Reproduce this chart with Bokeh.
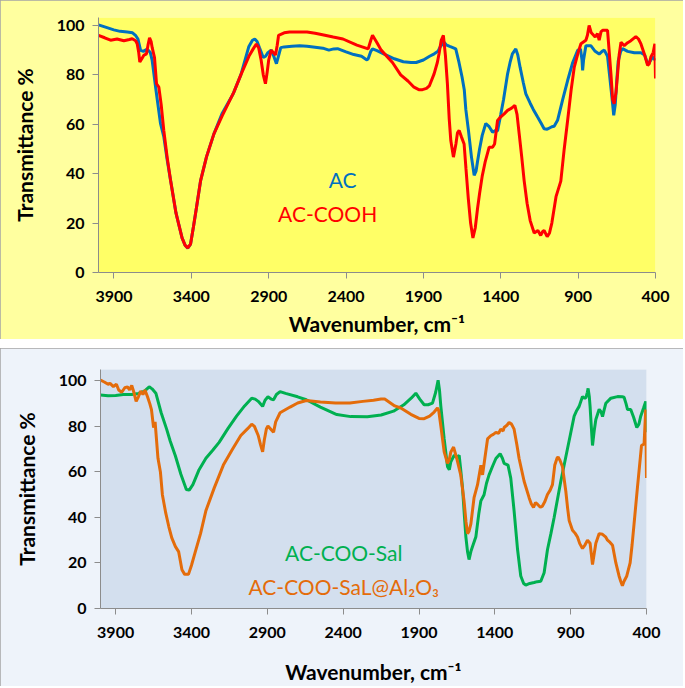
from bokeh.plotting import figure
from bokeh.models import Range1d, FixedTicker, Label, ColumnDataSource, Spacer
from bokeh.embed import file_html
from bokeh.resources import INLINE

# ---------------- data ----------------
x_ticks = [3900, 3400, 2900, 2400, 1900, 1400, 900, 400]
y_ticks = [0, 20, 40, 60, 80, 100]

ac_wn = [4000, 3950, 3901, 3860, 3814, 3780, 3761, 3745, 3728, 3710, 3685, 3665, 3653, 3631, 3599, 3578, 3556,
         3534, 3499, 3460, 3440, 3423, 3405, 3386, 3370, 3340, 3302, 3254, 3200, 3132, 3080, 3028, 3005, 2990,
         2975, 2960, 2935, 2920, 2905, 2884, 2870, 2850, 2835, 2822, 2800, 2750, 2700, 2652, 2600, 2550, 2511,
         2480, 2455, 2400, 2350, 2300, 2265, 2257, 2240, 2229, 2200, 2150, 2088, 2030, 1980, 1947, 1900, 1860,
         1830, 1806, 1790, 1767, 1749, 1730, 1710, 1691, 1670, 1650, 1636, 1626, 1608, 1590, 1572, 1560, 1550,
         1537, 1520, 1497, 1475, 1453, 1435, 1421, 1400, 1382, 1356, 1340, 1325, 1303, 1290, 1275, 1255, 1238,
         1210, 1190, 1162, 1140, 1120, 1100, 1085, 1070, 1055, 1033, 1000, 968, 935, 903, 885, 875, 871, 865,
         850, 818, 790, 764, 745, 731, 710, 698, 680, 670, 660, 650, 641, 625, 613, 580, 537, 494, 470, 451,
         435, 419, 410, 400]
ac_t = [100.2, 99.2, 98.2, 97.6, 97.3, 97.0, 96.0, 94.5, 89.9, 89.5, 90.4, 89.0, 85.8, 75.0, 60.2, 55.0, 45.5,
        37.2, 24.0, 14.0, 11.0, 9.8, 11.5, 18.6, 25.0, 37.2, 46.8, 56.1, 64.5, 72.0, 80.0, 91.5, 94.0, 94.5,
        93.5, 91.0, 87.0, 87.5, 89.0, 90.0, 88.0, 84.5, 88.0, 91.0, 91.3, 91.6, 91.8, 91.6, 91.2, 90.8, 90.0,
        90.5, 90.6, 89.3, 88.2, 87.5, 86.0, 86.5, 89.5, 90.5, 89.8, 88.3, 86.5, 85.3, 85.0, 85.0, 86.0, 87.5,
        88.5, 89.5, 91.5, 93.2, 92.0, 91.5, 91.0, 90.5, 85.0, 79.0, 74.0, 66.0, 57.0, 47.0, 39.3, 41.0, 45.0,
        50.0, 55.5, 60.3, 59.0, 56.8, 57.5, 57.3, 64.0, 70.0, 80.4, 85.0, 88.5, 90.5, 88.0, 83.0, 77.0, 72.3,
        68.5, 66.0, 62.9, 60.5, 58.2, 58.0, 58.5, 59.0, 59.2, 61.6, 70.0, 77.7, 85.0, 89.9, 90.5, 86.0, 81.8, 86.0,
        91.8, 91.8, 89.5, 88.4, 89.5, 90.0, 87.5, 80.5, 70.0, 63.6, 68.0, 78.0, 85.5, 89.5, 90.6, 89.5, 88.9, 88.9,
        88.0, 84.5, 85.5, 87.2, 86.5, 85.8]

cooh_wn = [4000, 3960, 3922, 3880, 3836, 3800, 3782, 3760, 3750, 3740, 3733, 3720, 3707, 3690, 3680, 3670, 3660,
           3653, 3638, 3625, 3610, 3595, 3578, 3556, 3534, 3499, 3460, 3440, 3423, 3405, 3386, 3370, 3340, 3302,
           3254, 3200, 3125, 3080, 3028, 3000, 2980, 2965, 2949, 2935, 2921, 2910, 2900, 2884, 2870, 2856, 2845,
           2836, 2800, 2765, 2700, 2652, 2600, 2560, 2483, 2420, 2330, 2257, 2240, 2229, 2200, 2173, 2100, 2047,
           2000, 1961, 1930, 1906, 1880, 1862, 1831, 1810, 1799, 1785, 1771, 1758, 1745, 1733, 1723, 1706, 1690,
           1680, 1669, 1655, 1637, 1625, 1610, 1595, 1580, 1565, 1550, 1537, 1520, 1500, 1475, 1453, 1440, 1421,
           1400, 1378, 1356, 1330, 1309, 1295, 1281, 1265, 1249, 1230, 1210, 1184, 1160, 1142, 1130, 1120, 1100,
           1085, 1070, 1043, 1012, 990, 968, 945, 925, 900, 882, 850, 840, 829, 815, 800, 790, 775, 764, 752, 742,
           720, 710, 700, 688, 677, 667, 655, 645, 635, 623, 602, 580, 559, 527, 510, 494, 470, 451, 440, 430, 415,
           404, 400]
cooh_t = [96.0, 95.0, 94.0, 94.5, 93.8, 94.3, 94.6, 93.8, 92.6, 89.0, 85.2, 86.5, 87.9, 88.5, 92.0, 95.0, 93.5,
          91.0, 87.0, 76.4, 75.0, 68.0, 57.5, 46.5, 37.2, 24.0, 14.0, 11.0, 10.0, 11.5, 18.6, 25.0, 37.2, 46.8,
          56.1, 63.5, 73.0, 80.0, 87.5, 90.5, 92.5, 91.0, 86.0, 80.0, 76.4, 81.0, 86.0, 90.0, 89.0, 88.0, 92.0,
          96.0, 97.0, 97.3, 97.3, 97.3, 96.8, 96.3, 95.3, 94.5, 92.0, 90.5, 94.0, 96.0, 93.0, 90.0, 85.0, 80.0,
          77.5, 75.0, 74.0, 74.0, 74.5, 75.5, 80.4, 85.0, 88.5, 94.0, 96.0, 88.0, 76.4, 62.0, 53.4, 46.7, 52.0,
          56.5, 57.5, 55.0, 52.0, 42.0, 30.0, 20.0, 14.0, 18.0, 26.0, 32.0, 39.0, 45.0, 50.7, 50.7, 52.0, 61.5,
          63.0, 64.2, 65.6, 66.5, 67.6, 64.0, 56.1, 47.0, 37.2, 28.0, 21.0, 16.0, 17.0, 15.0, 16.5, 17.0, 14.5,
          16.0, 20.0, 30.7, 37.0, 50.0, 61.5, 74.0, 83.1, 89.0, 92.6, 94.0, 96.0, 100.0, 97.0, 96.0, 95.3, 96.7,
          94.0, 97.5, 98.0, 98.0, 98.0, 90.0, 80.4, 70.0, 68.3, 73.0, 80.4, 88.0, 93.2, 91.8, 93.0, 93.8, 95.5,
          94.5, 92.5, 88.0, 83.8, 84.5, 87.2, 89.0, 92.6, 78.5]

sal_wn = [4000, 3950, 3900, 3850, 3794, 3750, 3710, 3679, 3660, 3635, 3600, 3564, 3540, 3506, 3470, 3434, 3415,
          3391, 3350, 3305, 3260, 3218, 3160, 3103, 3050, 3003, 2980, 2960, 2940, 2931, 2915, 2896, 2875, 2859,
          2840, 2816, 2780, 2700, 2643, 2550, 2442, 2350, 2241, 2150, 2068, 2000, 1950, 1921, 1895, 1866, 1840,
          1811, 1790, 1774, 1765, 1756, 1734, 1712, 1700, 1690, 1668, 1650, 1635, 1625, 1613, 1600, 1591, 1580,
          1570, 1558, 1547, 1525, 1505, 1492, 1471, 1455, 1438, 1415, 1393, 1365, 1350, 1339, 1313, 1295, 1273,
          1250, 1229, 1210, 1196, 1170, 1141, 1120, 1097, 1075, 1053, 1030, 1009, 965, 921, 900, 877, 860, 844,
          822, 810, 800, 790, 785, 777, 772, 764, 756, 745, 734, 712, 700, 690, 680, 668, 635, 591, 560, 548, 535,
          525, 504, 485, 464, 450, 438, 420, 405, 400]
sal_t = [93.8, 93.5, 93.6, 94.0, 94.0, 94.5, 95.5, 97.4, 96.5, 94.6, 86.0, 78.8, 73.5, 67.0, 59.0, 52.3, 52.0,
         54.4, 61.0, 66.0, 69.5, 73.0, 79.0, 84.5, 89.0, 92.4, 92.0, 91.0, 89.5, 88.8, 91.5, 93.0, 92.0, 91.7,
         94.0, 95.3, 94.5, 93.0, 91.7, 88.5, 85.2, 84.3, 84.2, 85.0, 86.7, 89.5, 92.5, 94.6, 92.0, 89.5, 89.5,
         90.2, 95.0, 100.3, 96.0, 88.8, 74.5, 62.3, 61.0, 64.5, 67.3, 66.5, 67.3, 61.0, 53.0, 40.0, 31.5, 25.0,
         21.5, 25.0, 27.2, 31.5, 42.0, 47.3, 50.0, 55.0, 58.7, 62.5, 65.9, 68.0, 66.0, 63.8, 63.0, 57.3, 42.9,
         25.8, 14.3, 11.0, 10.3, 11.0, 11.4, 11.8, 12.0, 15.7, 25.8, 33.0, 40.0, 55.9, 70.2, 77.0, 84.5, 87.0, 88.8,
         93.1, 92.5, 92.5, 95.0, 96.7, 93.0, 88.8, 80.0, 71.6, 78.0, 83.0, 87.5, 86.5, 84.3, 87.0, 90.2, 92.4, 93.1,
         93.0, 92.8, 90.0, 87.4, 87.4, 84.0, 79.5, 81.0, 84.5, 88.0, 91.0, 77.4]

al_wn = [4000, 3975, 3950, 3937, 3915, 3895, 3880, 3860, 3840, 3822, 3808, 3794, 3780, 3765, 3750, 3735, 3720,
         3707, 3690, 3675, 3664, 3650, 3640, 3621, 3605, 3592, 3570, 3549, 3530, 3506, 3485, 3463, 3445, 3420,
         3400, 3377, 3340, 3305, 3250, 3190, 3130, 3075, 3030, 3003, 2985, 2960, 2945, 2931, 2920, 2906, 2896,
         2880, 2859, 2845, 2816, 2750, 2700, 2643, 2550, 2450, 2356, 2270, 2200, 2150, 2126, 2060, 2020, 1954,
         1900, 1866, 1830, 1800, 1778, 1770, 1756, 1734, 1712, 1700, 1690, 1672, 1651, 1625, 1603, 1590, 1580,
         1570, 1558, 1537, 1514, 1492, 1481, 1466, 1448, 1427, 1410, 1393, 1375, 1361, 1345, 1339, 1320, 1306,
         1290, 1273, 1255, 1240, 1207, 1174, 1160, 1145, 1132, 1119, 1100, 1086, 1070, 1053, 1035, 1020, 1005,
         990, 983, 970, 954, 932, 920, 910, 888, 870, 855, 840, 822, 805, 789, 772, 764, 756, 745, 734, 712, 690,
         670, 657, 640, 624, 602, 581, 570, 559, 548, 530, 508, 495, 482, 460, 433, 416, 405, 400]
al_t = [100.3, 99.5, 98.5, 98.9, 97.5, 98.5, 96.0, 95.0, 97.0, 97.4, 96.0, 98.0, 95.0, 91.0, 93.0, 95.5, 94.0,
        96.0, 93.0, 90.0, 87.4, 79.5, 82.0, 66.0, 60.0, 50.0, 42.0, 35.8, 31.0, 27.2, 25.0, 17.0, 15.0, 15.0,
        19.0, 24.4, 33.0, 43.0, 53.0, 63.0, 70.0, 76.0, 79.0, 81.0, 80.0, 76.0, 72.0, 68.8, 74.0, 79.0, 80.2,
        79.0, 77.4, 82.0, 86.0, 88.5, 90.3, 91.4, 90.7, 90.3, 90.3, 91.0, 91.5, 92.0, 92.0, 89.0, 88.1, 85.3,
        83.5, 83.4, 84.5, 86.3, 88.1, 87.0, 80.2, 68.8, 63.8, 65.5, 68.8, 70.9, 65.9, 58.7, 47.3, 38.0, 32.9,
        34.0, 37.2, 48.7, 54.4, 62.9, 58.7, 65.9, 74.5, 75.9, 76.5, 77.4, 77.0, 78.8, 78.0, 79.5, 80.5, 81.7,
        81.0, 78.8, 72.0, 65.9, 55.9, 48.7, 46.0, 44.4, 46.5, 45.8, 44.5, 45.0, 47.0, 50.1, 52.0, 54.4, 62.9,
        66.0, 66.6, 65.0, 62.3, 51.5, 44.0, 38.7, 34.4, 33.0, 31.4, 28.5, 26.4, 28.0, 30.0, 28.7, 24.0, 19.3,
        24.0, 28.7, 32.9, 32.6, 31.5, 30.0, 29.0, 27.8, 20.0, 14.3, 12.0, 10.0, 12.0, 14.3, 20.0, 28.0, 37.2,
        53.0, 71.6, 72.3, 87.4, 57.3]

FONT = "Lato"
FIG_W = 683


def make_panel(height, border, ymax, outer_bg, plot_bg, title_standoff):
    p = figure(width=FIG_W, height=height, output_backend="svg", toolbar_location=None,
               x_range=Range1d(4000, 400), y_range=Range1d(0, ymax),
               min_border_left=border[0], min_border_right=border[1],
               min_border_top=border[2], min_border_bottom=border[3])
    p.background_fill_color = plot_bg
    p.border_fill_color = outer_bg
    p.outline_line_color = None
    p.grid.visible = False
    p.styles = {"outline": "2px solid #A5A5A5", "outline-offset": "-2px"}
    p.xaxis.ticker = FixedTicker(ticks=x_ticks)
    p.yaxis.ticker = FixedTicker(ticks=y_ticks)
    for ax in (p.xaxis[0], p.yaxis[0]):
        ax.axis_line_color = "#8C8C8C"
        ax.axis_line_width = 1
        ax.major_tick_line_color = "#8C8C8C"
        ax.major_tick_out = 6
        ax.major_tick_in = 0
        ax.minor_tick_line_color = None
        ax.major_label_text_font = FONT
        ax.major_label_text_font_style = "bold"
        ax.major_label_text_font_size = "16px"
        ax.major_label_text_color = "black"
        ax.axis_label_text_font = FONT
        ax.axis_label_text_font_style = "bold"
        ax.axis_label_text_font_size = "21px"
        ax.axis_label_text_color = "black"
    p.xaxis.axis_label = "Wavenumber, cm\u207b\u00b9"
    p.yaxis.axis_label = "Transmittance %"
    p.xaxis.major_label_standoff = 12
    p.xaxis.axis_label_standoff = title_standoff
    p.yaxis.major_label_standoff = 8
    p.yaxis.axis_label_standoff = 17
    return p


# top panel
p1 = make_panel(339, (98, 28, 17, 67), 103.2, "#FFFF9F", "#FFFF66", 6)
p1.line(x="wn", y="t", source=ColumnDataSource(dict(wn=ac_wn, t=ac_t)), line_color="#0070C0", line_width=3)
p1.line(x="wn", y="t", source=ColumnDataSource(dict(wn=cooh_wn, t=cooh_t)), line_color="#FF0000", line_width=3)
p1.add_layout(Label(x=2422, y=37.7, text="AC", text_align="center", text_baseline="middle",
                    text_font=FONT, text_font_size="21px", text_color="#0070C0"))
p1.add_layout(Label(x=2519, y=23.9, text="AC-COOH", text_align="center", text_baseline="middle",
                    text_font=FONT, text_font_size="21px", text_color="#FF0000"))

# bottom panel
p2 = make_panel(338, (100, 37, 21, 73), 105.0, "#EEF3FA", "#D3DFEE", 18)
p2.line(x="wn", y="t", source=ColumnDataSource(dict(wn=sal_wn, t=sal_t)), line_color="#00B050", line_width=3)
p2.line(x="wn", y="t", source=ColumnDataSource(dict(wn=al_wn, t=al_t)), line_color="#E46C0A", line_width=3)
p2.add_layout(Label(x=2396, y=24.6, text="AC-COO-Sal", text_align="center", text_baseline="middle",
                    text_font=FONT, text_font_size="21px", text_color="#00B050"))
p2.add_layout(Label(x=2396, y=9.6, text="AC-COO-SaL@Al\u2082O\u2083", text_align="center", text_baseline="middle",
                    text_font=FONT, text_font_size="21px", text_color="#E46C0A"))

gap = Spacer(width=FIG_W, height=9)
open("out.html", "w").write(file_html([p1, gap, p2], INLINE))
